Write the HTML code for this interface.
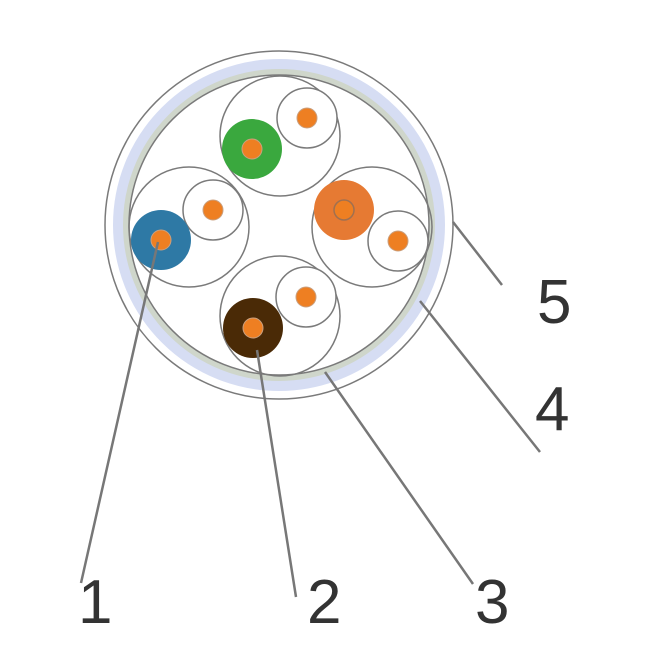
<!DOCTYPE html>
<html><head><style>body{margin:0;background:#fff}svg{display:block}</style></head><body>
<svg width="660" height="660" viewBox="0 0 660 660" xmlns="http://www.w3.org/2000/svg">
<g fill="none" stroke="#7a7a7a" stroke-width="1.5">
<circle cx="279" cy="225" r="174" fill="#fff"/>
<circle cx="279" cy="225" r="158" stroke="#d6ddf3" stroke-width="16"/>
<circle cx="279" cy="225" r="153" stroke="#cfd6cb" stroke-width="6"/>
<circle cx="279" cy="225" r="150" fill="#fff"/>
<circle cx="280" cy="136" r="60"/>
<circle cx="189" cy="227" r="60"/>
<circle cx="372" cy="227" r="60"/>
<circle cx="280" cy="316" r="60"/>
<circle cx="307" cy="118" r="30" fill="#fff"/>
<circle cx="213" cy="210" r="30" fill="#fff"/>
<circle cx="398" cy="241" r="30" fill="#fff"/>
<circle cx="306" cy="297" r="30" fill="#fff"/>
</g>
<circle cx="252" cy="149" r="30" fill="#3aa83e"/>
<circle cx="161" cy="240" r="30" fill="#2e79a5"/>
<circle cx="344" cy="210" r="30" fill="#e67a33"/>
<circle cx="253" cy="328" r="30" fill="#4a2a06"/>
<g fill="#ee7f22" stroke="#c9a080" stroke-width="1">
<circle cx="252" cy="149" r="10"/><circle cx="161" cy="240" r="10"/>
<circle cx="253" cy="328" r="10"/><circle cx="307" cy="118" r="10"/>
<circle cx="213" cy="210" r="10"/><circle cx="398" cy="241" r="10"/>
<circle cx="306" cy="297" r="10"/>
<circle cx="344" cy="210" r="10" stroke="#a07050" stroke-width="1.5"/>
</g>
<g stroke="#777" stroke-width="2.5">
<line x1="158" y1="242" x2="81" y2="583"/>
<line x1="257" y1="350" x2="296" y2="597"/>
<line x1="325" y1="372" x2="473" y2="584"/>
<line x1="420" y1="301" x2="540" y2="452"/>
<line x1="453" y1="222" x2="502" y2="285"/>
</g>
<g font-family="Liberation Sans, sans-serif" font-size="62" fill="#333">
<text x="78" y="623">1</text>
<text x="307" y="623">2</text>
<text x="475" y="623">3</text>
<text x="535" y="430">4</text>
<text x="537" y="323">5</text>
</g>
</svg>
</body></html>
